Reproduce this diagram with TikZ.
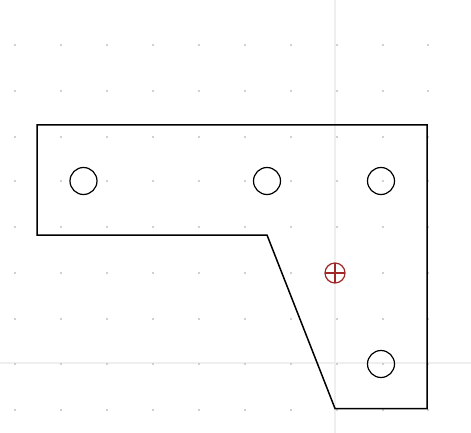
\documentclass[tikz,border=0pt]{standalone}
\definecolor{griddot}{HTML}{D0D0D0}
\definecolor{axisline}{HTML}{EFEFEF}
\definecolor{marker}{HTML}{A02828}
\tikzset{
  outline/.style={draw=black,line width=1.5pt,line join=miter},
  hole/.style={draw=black,line width=1.2pt},
  axis/.style={draw=axisline,line width=1.2pt},
  markerline/.style={draw=marker,line width=1.2pt}
}
\begin{document}
\begin{tikzpicture}[x=1pt,y=-1pt]
\useasboundingbox[fill=white] (0,0) rectangle (471,433);
\draw[axis] (335,0) -- (335,433);
\draw[axis] (0,363) -- (471,363);
\foreach \gx in {15,61,107,153,199,245,291,336.5,382.5,428}
  \foreach \gy in {45,91,137,181,227,273,319,364,410}
    \fill[griddot] (\gx-1,\gy-1) rectangle (\gx+1,\gy+1);
\draw[outline] (37,125) -- (427,125) -- (427,408.5) -- (335,408.5) -- (267,235) -- (37,235) -- cycle;
\draw[hole] (83.5,181) circle (13.5);
\draw[hole] (267,181) circle (13.5);
\draw[hole] (381,181) circle (13.5);
\draw[hole] (381,364) circle (13.5);
\draw[markerline] (335,273) circle (10);
\draw[markerline] (325,273) -- (345,273);
\draw[markerline] (335,263) -- (335,283);
\end{tikzpicture}
\end{document}
